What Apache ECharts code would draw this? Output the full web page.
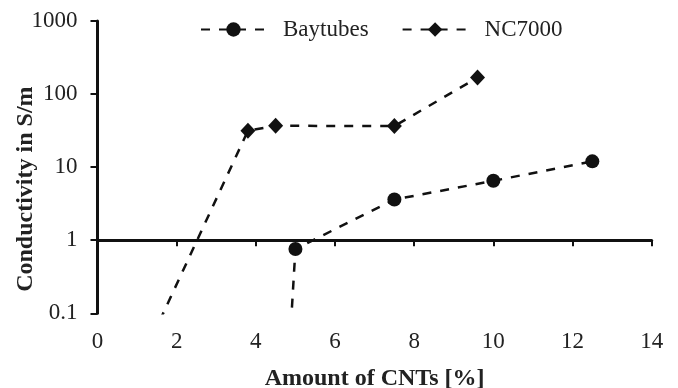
<!DOCTYPE html>
<html>
<head>
<meta charset="utf-8">
<script src="https://cdn.jsdelivr.net/npm/echarts@6/dist/echarts.min.js"></script>
<style>
html,body{margin:0;padding:0;background:#fff;}
#chart{width:678px;height:388px;}
</style>
</head>
<body>
<div id="chart"></div>
<script>
// Data
const seriesNames = ['Baytubes', 'NC7000'];
const baytubesX = [4.75, 5, 7.5, 10, 12.5];
const baytubesY = [0.004, 0.76, 3.6, 6.5, 12];
const nc7000X = [1, 3.8, 4.5, 7.5, 9.6];
const nc7000Y = [0.017, 31.5, 36.8, 36.5, 168];
const xTicks = [0, 2, 4, 6, 8, 10, 12, 14];
const yTicks = [0.1, 1, 10, 100, 1000];
const yTickLabels = ['0.1', '1', '10', '100', '1000'];
const xTitle = 'Amount of CNTs [%]';
const yTitle = 'Conductivity in S/m';

const font = '"Liberation Serif", "Times New Roman", serif';
const gridTop = 21, gridBottom = 74.7, chartH = 388;
const decadePx = (chartH - gridTop - gridBottom) / (yTicks.length - 1);

function pairs(xs, ys) { return xs.map((x, i) => [x, ys[i]]); }

const chart = echarts.init(document.getElementById('chart'), null, {renderer: 'canvas'});
const baseX = {
  type: 'value', min: xTicks[0], max: xTicks[xTicks.length - 1], interval: 2,
  splitLine: {show: false}
};
chart.setOption({
  animation: false,
  backgroundColor: '#fff',
  textStyle: {fontFamily: font},
  grid: {left: 97.5, right: 26.3, top: gridTop, bottom: gridBottom, containLabel: false, outerBoundsMode: 'none'},
  legend: {
    top: 13, left: 195,
    itemWidth: 65, itemHeight: 18, itemGap: 33,
    data: seriesNames,
    textStyle: {fontFamily: font, fontSize: 23, color: '#222', padding: [0, 0, 0, 12]}
  },
  xAxis: [
    Object.assign({}, baseX, {
      position: 'bottom',
      axisLine: {show: false}, axisTick: {show: false},
      axisLabel: {
        margin: 17, fontSize: 23, color: '#222', fontFamily: font,
        formatter: v => String(v)
      },
      name: xTitle, nameLocation: 'middle', nameGap: 53, nameMoveOverlap: false,
      nameTextStyle: {fontFamily: font, fontSize: 24, fontWeight: 'bold', color: '#222'}
    }),
    Object.assign({}, baseX, {
      position: 'bottom', offset: -decadePx,
      axisLine: {show: true, onZero: false, lineStyle: {color: '#111', width: 3}},
      axisTick: {show: true, inside: false, length: 6, lineStyle: {color: '#111', width: 2}},
      axisLabel: {show: false}
    })
  ],
  yAxis: {
    type: 'log', logBase: 10, min: yTicks[0], max: yTicks[yTicks.length - 1],
    splitLine: {show: false},
    axisLine: {show: true, onZero: false, lineStyle: {color: '#111', width: 3}},
    axisTick: {show: true, inside: false, length: 7, lineStyle: {color: '#111', width: 2}},
    axisLabel: {
      margin: 20, fontSize: 23, color: '#222', fontFamily: font,
      formatter: v => {
        const i = yTicks.findIndex(t => Math.abs(Math.log10(t) - Math.log10(v)) < 1e-6);
        return i >= 0 ? yTickLabels[i] : '';
      }
    },
    name: yTitle, nameLocation: 'middle', nameGap: 60, nameMoveOverlap: false,
    nameTextStyle: {fontFamily: font, fontSize: 24, fontWeight: 'bold', color: '#222', padding: [0, 44, 0, 0]}
  },
  series: [
    {
      name: seriesNames[0], type: 'line', xAxisIndex: 0,
      data: pairs(baytubesX, baytubesY),
      symbol: 'circle', symbolSize: 14,
      itemStyle: {color: '#111'},
      lineStyle: {color: '#111', width: 2.5, type: [9, 9]},
      clip: true
    },
    {
      name: seriesNames[1], type: 'line', xAxisIndex: 0,
      data: pairs(nc7000X, nc7000Y),
      symbol: 'diamond', symbolSize: [15, 16],
      itemStyle: {color: '#111'},
      lineStyle: {color: '#111', width: 2.5, type: [9, 9]},
      clip: true
    }
  ]
});
</script>
</body>
</html>
